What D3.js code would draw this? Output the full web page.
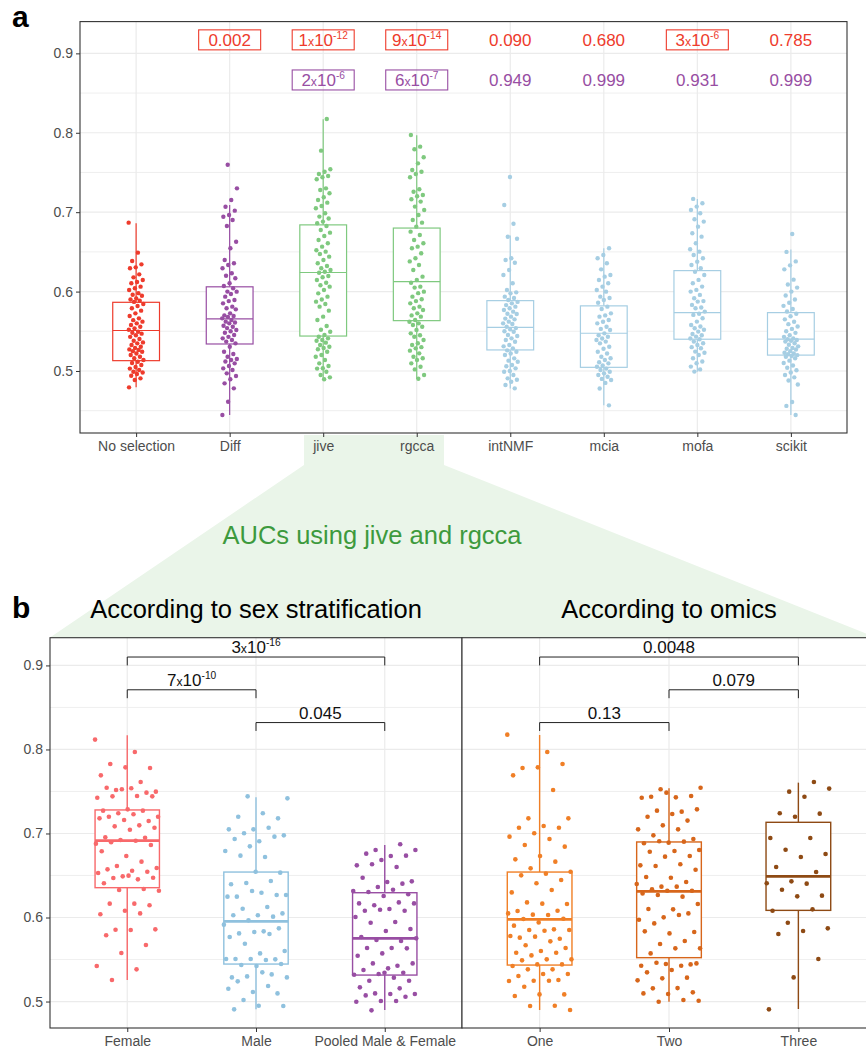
<!DOCTYPE html>
<html>
<head>
<meta charset="utf-8">
<script src="https://cdn.jsdelivr.net/npm/d3@7"></script>
<style>
body { margin: 0; background: #fff; }
text { font-family: "Liberation Sans", Arial, sans-serif; }
</style>
</head>
<body>
<svg id="fig" width="866" height="1050"></svg>
<script>
// ---- panel a data ----
var methods = ["No selection", "Diff", "jive", "rgcca", "intNMF", "mcia", "mofa", "scikit"];

var aucNoSel = [0.6868,0.6490,0.6385,0.6343,0.6305,0.6293,0.6217,0.6179,0.6146,0.6120,0.6104,0.6062,0.6041,0.6020,0.5980,0.5960,0.5948,0.5915,0.5900,0.5885,0.5870,0.5843,0.5818,0.5790,0.5760,0.5726,0.5692,0.5663,0.5640,0.5621,0.5600,0.5580,0.5558,0.5537,0.5520,0.5495,0.5482,0.5470,0.5450,0.5430,0.5403,0.5380,0.5360,0.5348,0.5327,0.5306,0.5290,0.5272,0.5264,0.5250,0.5243,0.5220,0.5201,0.5180,0.5160,0.5138,0.5117,0.5100,0.5075,0.5050,0.5030,0.5012,0.4991,0.4980,0.4962,0.4940,0.4907,0.4886,0.4794];
var aucDiff = [0.7598,0.7300,0.7153,0.7069,0.7019,0.6964,0.6943,0.6901,0.6826,0.6628,0.6545,0.6398,0.6356,0.6335,0.6293,0.6230,0.6200,0.6167,0.6104,0.6070,0.6041,0.6000,0.5999,0.5969,0.5936,0.5894,0.5880,0.5852,0.5810,0.5790,0.5776,0.5726,0.5700,0.5692,0.5680,0.5663,0.5642,0.5621,0.5610,0.5600,0.5570,0.5558,0.5540,0.5516,0.5500,0.5482,0.5453,0.5430,0.5411,0.5390,0.5370,0.5348,0.5306,0.5243,0.5214,0.5180,0.5150,0.5138,0.5120,0.5096,0.5063,0.5033,0.5012,0.4970,0.4937,0.4895,0.4844,0.4781,0.4613,0.4446];
var aucJive = [0.8174,0.7775,0.7540,0.7510,0.7480,0.7456,0.7439,0.7414,0.7300,0.7280,0.7238,0.7187,0.7154,0.7120,0.7078,0.7049,0.6986,0.6944,0.6920,0.6881,0.6860,0.6826,0.6776,0.6742,0.6700,0.6650,0.6608,0.6566,0.6520,0.6503,0.6473,0.6440,0.6398,0.6356,0.6322,0.6293,0.6272,0.6250,0.6238,0.6196,0.6180,0.6146,0.6112,0.6080,0.6062,0.6020,0.5978,0.5936,0.5900,0.5873,0.5844,0.5810,0.5760,0.5684,0.5642,0.5567,0.5520,0.5495,0.5453,0.5432,0.5411,0.5390,0.5380,0.5357,0.5327,0.5306,0.5290,0.5273,0.5243,0.5201,0.5180,0.5138,0.5096,0.5063,0.5034,0.5030,0.4991,0.4950,0.4920,0.4895];
var aucRgcca = [0.7972,0.7825,0.7792,0.7691,0.7615,0.7531,0.7510,0.7480,0.7439,0.7288,0.7258,0.7217,0.7200,0.7162,0.7133,0.7070,0.7028,0.6965,0.6902,0.6868,0.6818,0.6755,0.6713,0.6650,0.6608,0.6566,0.6545,0.6482,0.6419,0.6380,0.6335,0.6272,0.6188,0.6146,0.6112,0.6062,0.6050,0.5999,0.5980,0.5936,0.5903,0.5880,0.5852,0.5810,0.5790,0.5768,0.5726,0.5700,0.5684,0.5642,0.5620,0.5600,0.5580,0.5558,0.5516,0.5474,0.5450,0.5432,0.5390,0.5350,0.5327,0.5300,0.5285,0.5256,0.5222,0.5180,0.5160,0.5138,0.5096,0.5054,0.5020,0.4950,0.4903];
var aucIntNMF = [0.7443,0.7090,0.6855,0.6691,0.6666,0.6419,0.6398,0.6364,0.6272,0.6209,0.6104,0.6020,0.5990,0.5978,0.5936,0.5920,0.5894,0.5870,0.5852,0.5830,0.5810,0.5790,0.5768,0.5747,0.5720,0.5717,0.5684,0.5660,0.5650,0.5621,0.5600,0.5592,0.5558,0.5540,0.5524,0.5500,0.5495,0.5453,0.5440,0.5411,0.5390,0.5369,0.5327,0.5310,0.5285,0.5260,0.5243,0.5220,0.5201,0.5159,0.5130,0.5117,0.5075,0.5060,0.5033,0.5000,0.4991,0.4949,0.4907,0.4890,0.4865,0.4823,0.4781];
var aucMcia = [0.6545,0.6461,0.6419,0.6356,0.6280,0.6209,0.6188,0.6146,0.6104,0.6062,0.6020,0.5999,0.5936,0.5920,0.5894,0.5860,0.5810,0.5780,0.5726,0.5700,0.5684,0.5642,0.5620,0.5600,0.5558,0.5530,0.5516,0.5474,0.5450,0.5432,0.5410,0.5390,0.5370,0.5348,0.5306,0.5280,0.5243,0.5220,0.5180,0.5160,0.5138,0.5110,0.5096,0.5070,0.5054,0.5030,0.5012,0.4990,0.4970,0.4950,0.4928,0.4900,0.4886,0.4850,0.4780,0.4567];
var aucMofa = [0.7167,0.7112,0.7070,0.7028,0.6986,0.6911,0.6881,0.6818,0.6734,0.6692,0.6608,0.6533,0.6503,0.6461,0.6419,0.6377,0.6335,0.6293,0.6250,0.6209,0.6147,0.6105,0.6063,0.6021,0.6000,0.5958,0.5916,0.5880,0.5874,0.5832,0.5800,0.5790,0.5748,0.5720,0.5706,0.5664,0.5622,0.5580,0.5560,0.5538,0.5520,0.5496,0.5466,0.5450,0.5433,0.5410,0.5399,0.5370,0.5350,0.5328,0.5300,0.5286,0.5244,0.5230,0.5202,0.5160,0.5120,0.5097,0.5055,0.5020,0.4992];
var aucScikit = [0.6725,0.6500,0.6380,0.6330,0.6280,0.6150,0.6090,0.6050,0.6000,0.5950,0.5900,0.5860,0.5820,0.5780,0.5750,0.5720,0.5690,0.5650,0.5620,0.5590,0.5560,0.5530,0.5500,0.5480,0.5450,0.5430,0.5410,0.5400,0.5390,0.5380,0.5370,0.5350,0.5330,0.5310,0.5290,0.5280,0.5270,0.5250,0.5230,0.5220,0.5210,0.5200,0.5190,0.5180,0.5160,0.5130,0.5100,0.5070,0.5040,0.5010,0.4980,0.4950,0.4920,0.4880,0.4830,0.4610,0.4560,0.4446];

// box statistics (lower whisker, Q1, median, Q3, upper whisker)
var loA  = [0.4795, 0.4446, 0.4895, 0.4900, 0.4780, 0.4568, 0.4990, 0.4446];
var q1A  = [0.5130, 0.5340, 0.5440, 0.5634, 0.5265, 0.5046, 0.5400, 0.5200];
var medA = [0.5510, 0.5655, 0.6240, 0.6125, 0.5550, 0.5475, 0.5735, 0.5400];
var q3A  = [0.5865, 0.6060, 0.6840, 0.6800, 0.5886, 0.5820, 0.6264, 0.5735];
var hiA  = [0.6860, 0.7090, 0.8170, 0.7970, 0.6705, 0.6545, 0.7166, 0.6530];

// p-values vs No selection (red) and vs Diff (purple); "" = none
var pRed       = ["", "0.002", "1e-12", "9e-14", "0.090", "0.680", "3e-6", "0.785"];
var pRedBoxed  = [false, true, true, true, false, false, true, false];
var pPurple      = ["", "", "2e-6", "6e-7", "0.949", "0.999", "0.931", "0.999"];
var pPurpleBoxed = [false, false, true, true, false, false, false, false];

// ---- panel b data ----
var sexGroups = ["Female", "Male", "Pooled Male & Female"];
var aucFemale = [0.8117,0.7970,0.7827,0.7780,0.7787,0.7692,0.7613,0.7518,0.7498,0.7538,0.7545,0.7486,0.7526,0.7426,0.7446,0.7442,0.7442,0.7287,0.7272,0.7272,0.7240,0.7200,0.7228,0.7200,0.7149,0.7161,0.7180,0.7097,0.7085,0.7069,0.7045,0.6954,0.6950,0.6922,0.6879,0.6914,0.6895,0.6863,0.6732,0.6788,0.6665,0.6613,0.6589,0.6557,0.6573,0.6545,0.6490,0.6530,0.6454,0.6470,0.6474,0.6498,0.6407,0.6339,0.6327,0.6319,0.6165,0.6165,0.6145,0.6081,0.6038,0.6049,0.5855,0.5859,0.5851,0.5788,0.5672,0.5577,0.5422,0.5383,0.5256];
var aucMale = [0.7442,0.7418,0.7240,0.7200,0.7180,0.7049,0.7049,0.7069,0.7002,0.6978,0.6907,0.6934,0.6962,0.6847,0.6791,0.6720,0.6736,0.6534,0.6545,0.6395,0.6434,0.6411,0.6268,0.6295,0.6248,0.6268,0.6315,0.6248,0.6125,0.6105,0.6049,0.6026,0.6026,0.6010,0.5966,0.5915,0.5835,0.5811,0.5871,0.5827,0.5768,0.5803,0.5688,0.5601,0.5573,0.5506,0.5502,0.5506,0.5506,0.5494,0.5434,0.5446,0.5422,0.5287,0.5323,0.5299,0.5287,0.5347,0.5240,0.5097,0.5113,0.5153,0.5184,0.5018,0.4946,0.4950,0.4907];
var aucPooled = [0.6871,0.6803,0.6803,0.6732,0.6760,0.6736,0.6684,0.6621,0.6601,0.6633,0.6430,0.6422,0.6474,0.6403,0.6363,0.6315,0.6331,0.6303,0.6276,0.6256,0.6168,0.6180,0.6145,0.6168,0.6101,0.6081,0.6081,0.6093,0.6006,0.5946,0.5938,0.5863,0.5839,0.5768,0.5720,0.5732,0.5752,0.5637,0.5637,0.5633,0.5573,0.5545,0.5426,0.5454,0.5454,0.5395,0.5375,0.5343,0.5327,0.5319,0.5284,0.5248,0.5248,0.5343,0.5169,0.5157,0.5097,0.5089,0.5089,0.5073,0.5057,0.5006,0.4998,0.5006,0.4895];
var loSex  = [0.5256, 0.4907, 0.4899];
var q1Sex  = [0.6355, 0.5446, 0.5315];
var medSex = [0.6915, 0.5954, 0.5752];
var q3Sex  = [0.7280, 0.6541, 0.6295];
var hiSex  = [0.8170, 0.7430, 0.6863];
var sexTests = [[0, 2, "3e-16"], [0, 1, "7e-10"], [1, 2, "0.045"]];

var omicsGroups = ["One", "Two", "Three"];
var aucOne = [0.8176,0.7970,0.7780,0.7827,0.7787,0.7692,0.7518,0.7180,0.7180,0.7089,0.7069,0.7069,0.7002,0.6962,0.6934,0.6863,0.6843,0.6732,0.6692,0.6665,0.6585,0.6545,0.6522,0.6502,0.6446,0.6407,0.6299,0.6327,0.6180,0.6160,0.6165,0.6077,0.6081,0.6034,0.6049,0.6030,0.5982,0.5986,0.5942,0.5903,0.5859,0.5851,0.5851,0.5843,0.5760,0.5748,0.5772,0.5780,0.5716,0.5669,0.5637,0.5601,0.5581,0.5581,0.5549,0.5502,0.5502,0.5490,0.5442,0.5442,0.5422,0.5383,0.5383,0.5327,0.5327,0.5303,0.5256,0.5248,0.5244,0.5248,0.5176,0.5085,0.5085,0.5065,0.4950,0.4946,0.4899];
var aucTwo = [0.7526,0.7545,0.7430,0.7438,0.7446,0.7486,0.7426,0.7260,0.7272,0.7287,0.7232,0.7200,0.7153,0.7097,0.7049,0.7049,0.6978,0.6934,0.6891,0.6883,0.6903,0.6907,0.6803,0.6791,0.6783,0.6732,0.6724,0.6621,0.6633,0.6613,0.6569,0.6474,0.6482,0.6422,0.6367,0.6399,0.6367,0.6335,0.6319,0.6319,0.6287,0.6248,0.6268,0.6160,0.6097,0.6101,0.6049,0.6002,0.5974,0.6030,0.5930,0.5827,0.5811,0.5835,0.5720,0.5684,0.5633,0.5633,0.5573,0.5442,0.5446,0.5426,0.5426,0.5462,0.5454,0.5375,0.5347,0.5284,0.5276,0.5252,0.5160,0.5157,0.5109,0.5089,0.5097,0.5018,0.4998,0.5010];
var aucThree = [0.7613,0.7498,0.7534,0.7438,0.7240,0.7236,0.7200,0.6946,0.6946,0.6807,0.6756,0.6720,0.6601,0.6541,0.6430,0.6407,0.6403,0.6331,0.6260,0.6252,0.6081,0.6097,0.5938,0.5871,0.5839,0.5803,0.5506,0.5287,0.4907];
var loOm  = [0.4899, 0.4998, 0.4911];
var q1Om  = [0.5434, 0.5522, 0.6085];
var medOm = [0.5978, 0.6311, 0.6490];
var q3Om  = [0.6541, 0.6899, 0.7133];
var hiOm  = [0.8172, 0.7538, 0.7605];
var omicsTests = [[0, 2, "0.0048"], [1, 2, "0.079"], [0, 1, "0.13"]];
var bracketLevels = [0.910, 0.871, 0.832];

// ---- colours ----
var colA = ["#ee3b2c", "#984ea3", "#7fc97f", "#7fc97f", "#a6cee3", "#a6cee3", "#a6cee3", "#a6cee3"];
var colSex = ["#f8696b", "#8fc1de", "#984ea3"];
var colOm = ["#f07f26", "#d7661b", "#8e4a14"];
var redTxt = "#ee3b2c", purpleTxt = "#984ea3";
var gridCol = "#ebebeb", borderCol = "#333333", tickTxt = "#4d4d4d";

var svg = d3.select("#fig");

// shaded "zoom" shape linking jive/rgcca to panel b
svg.append("path")
    .attr("d", "M304,435 L444,435 L444,465 L876,637.5 L50,637.5 L304,465 Z")
    .attr("fill", "#eaf5e9");

// put a label with optional "m x 10^e" formatting
function pLabel(g, x, y, label, color, size) {
    var t = g.append("text")
        .attr("x", x).attr("y", y)
        .attr("text-anchor", "middle")
        .attr("fill", color)
        .style("font-size", size + "px");
    if (label.indexOf("e-") > 0) {
        var parts = label.split("e");
        t.append("tspan").text(parts[0]);
        t.append("tspan").style("font-size", (size * 0.72) + "px").text("x");
        t.append("tspan").text("10");
        t.append("tspan").attr("dy", -size * 0.4).style("font-size", (size * 0.6) + "px").text(parts[1]);
    } else {
        t.text(label);
    }
    return t;
}

// one boxplot + jitter panel
function drawPanel(cfg) {
    var g = svg.append("g");
    var x = cfg.x, y = cfg.y;
    var x0 = x.range()[0], x1 = x.range()[1];
    var y0 = y.range()[0], y1 = y.range()[1];
    var step = x.step();

    g.append("rect").attr("x", x0).attr("y", y1).attr("width", x1 - x0).attr("height", y0 - y1)
        .attr("fill", "#fff");

    // grid
    g.selectAll(".minor").data(cfg.minor).enter().append("line")
        .attr("x1", x0).attr("x2", x1)
        .attr("y1", function(d) { return y(d); }).attr("y2", function(d) { return y(d); })
        .attr("stroke", gridCol).attr("stroke-width", 0.8);
    g.selectAll(".major").data(cfg.major).enter().append("line")
        .attr("x1", x0).attr("x2", x1)
        .attr("y1", function(d) { return y(d); }).attr("y2", function(d) { return y(d); })
        .attr("stroke", gridCol).attr("stroke-width", 1.2);
    g.selectAll(".vgrid").data(cfg.groups).enter().append("line")
        .attr("x1", function(d) { return x(d); }).attr("x2", function(d) { return x(d); })
        .attr("y1", y0).attr("y2", y1)
        .attr("stroke", gridCol).attr("stroke-width", 1.2);

    var bw = step * 0.5;
    cfg.groups.forEach(function(grp, i) {
        var cx = x(grp), c = cfg.colors[i];
        // whiskers
        g.append("line").attr("x1", cx).attr("x2", cx)
            .attr("y1", y(cfg.q3[i])).attr("y2", y(cfg.hi[i]))
            .attr("stroke", c).attr("stroke-width", cfg.lw);
        g.append("line").attr("x1", cx).attr("x2", cx)
            .attr("y1", y(cfg.q1[i])).attr("y2", y(cfg.lo[i]))
            .attr("stroke", c).attr("stroke-width", cfg.lw);
        // box
        g.append("rect")
            .attr("x", cx - bw / 2).attr("y", y(cfg.q3[i]))
            .attr("width", bw).attr("height", y(cfg.q1[i]) - y(cfg.q3[i]))
            .attr("fill", "#fff").attr("stroke", c).attr("stroke-width", cfg.lw);
        g.append("line")
            .attr("x1", cx - bw / 2).attr("x2", cx + bw / 2)
            .attr("y1", y(cfg.med[i])).attr("y2", y(cfg.med[i]))
            .attr("stroke", c).attr("stroke-width", cfg.medW);
    });

    // jittered points (deterministic spread)
    cfg.groups.forEach(function(grp, i) {
        var cx = x(grp);
        g.selectAll(null).data(cfg.values[i]).enter().append("circle")
            .attr("cx", function(d, k) {
                var f = ((k * 0.6180339887 + i * 0.37) % 1) - 0.5;
                return cx + f * 2 * cfg.jitter * step;
            })
            .attr("cy", function(d) { return y(d); })
            .attr("r", cfg.r)
            .attr("fill", cfg.colors[i]);
    });

    // border
    g.append("rect").attr("x", x0).attr("y", y1).attr("width", x1 - x0).attr("height", y0 - y1)
        .attr("fill", "none").attr("stroke", borderCol).attr("stroke-width", 1.1);

    // axes
    var xa = g.append("g").attr("transform", "translate(0," + y0 + ")")
        .call(d3.axisBottom(x).tickSize(4).tickPadding(4));
    xa.select(".domain").remove();
    xa.selectAll("line").attr("stroke", borderCol);
    xa.selectAll("text").attr("fill", tickTxt).style("font-size", "14px")
        .style("font-family", "'Liberation Sans', Arial, sans-serif");

    if (cfg.yAxis) {
        var ya = g.append("g").attr("transform", "translate(" + x0 + ",0)")
            .call(d3.axisLeft(y).tickValues(cfg.major).tickFormat(d3.format(".1f")).tickSize(4).tickPadding(3));
        ya.select(".domain").remove();
        ya.selectAll("line").attr("stroke", borderCol);
        ya.selectAll("text").attr("fill", tickTxt).style("font-size", "14px")
            .style("font-family", "'Liberation Sans', Arial, sans-serif");
    }
    return g;
}

// ---- panel a ----
var xA = d3.scalePoint().domain(methods).range([80, 847]).padding(0.6);
var yA = d3.scaleLinear().domain([0.4219, 0.940]).range([433, 21.6]);
var gA = drawPanel({
    x: xA, y: yA, groups: methods,
    values: [aucNoSel, aucDiff, aucJive, aucRgcca, aucIntNMF, aucMcia, aucMofa, aucScikit],
    lo: loA, q1: q1A, med: medA, q3: q3A, hi: hiA,
    colors: colA, major: [0.5, 0.6, 0.7, 0.8, 0.9], minor: [0.45, 0.55, 0.65, 0.75, 0.85],
    jitter: 0.08, r: 2.2, lw: 1.2, medW: 1.2, yAxis: true
});

var redLevel = 0.917, purpleLevel = 0.8665;
methods.forEach(function(m, i) {
    var cx = xA(m);
    if (pRed[i] !== "") {
        pLabel(gA, cx, yA(redLevel) + 6, pRed[i], redTxt, 17);
        if (pRedBoxed[i]) {
            gA.append("rect").attr("x", cx - 31).attr("y", yA(redLevel) - 10)
                .attr("width", 62).attr("height", 20)
                .attr("fill", "none").attr("stroke", redTxt).attr("stroke-width", 1.1);
        }
    }
    if (pPurple[i] !== "") {
        pLabel(gA, cx, yA(purpleLevel) + 6, pPurple[i], purpleTxt, 17);
        if (pPurpleBoxed[i]) {
            gA.append("rect").attr("x", cx - 31).attr("y", yA(purpleLevel) - 10)
                .attr("width", 62).attr("height", 20)
                .attr("fill", "none").attr("stroke", purpleTxt).attr("stroke-width", 1.1);
        }
    }
});

// ---- panel b ----
var yB = d3.scaleLinear().domain([0.4685, 0.933]).range([1028, 637.7]);
var xSex = d3.scalePoint().domain(sexGroups).range([50, 462]).padding(0.6);
var xOm = d3.scalePoint().domain(omicsGroups).range([462, 876]).padding(0.6);

var gSex = drawPanel({
    x: xSex, y: yB, groups: sexGroups, values: [aucFemale, aucMale, aucPooled],
    lo: loSex, q1: q1Sex, med: medSex, q3: q3Sex, hi: hiSex,
    colors: colSex, major: [0.5, 0.6, 0.7, 0.8, 0.9], minor: [0.55, 0.65, 0.75, 0.85],
    jitter: 0.25, r: 2.3, lw: 1.4, medW: 2.6, yAxis: true
});
var gOm = drawPanel({
    x: xOm, y: yB, groups: omicsGroups, values: [aucOne, aucTwo, aucThree],
    lo: loOm, q1: q1Om, med: medOm, q3: q3Om, hi: hiOm,
    colors: colOm, major: [0.5, 0.6, 0.7, 0.8, 0.9], minor: [0.55, 0.65, 0.75, 0.85],
    jitter: 0.25, r: 2.3, lw: 1.4, medW: 2.6, yAxis: false
});

function brackets(g, x, groups, tests) {
    tests.forEach(function(t, i) {
        var xa = x(groups[t[0]]), xb = x(groups[t[1]]);
        var yl = yB(bracketLevels[i]), yt = yB(bracketLevels[i] - 0.01);
        g.append("path")
            .attr("d", "M" + xa + "," + yt + "V" + yl + "H" + xb + "V" + yt)
            .attr("fill", "none").attr("stroke", "#222").attr("stroke-width", 1);
        pLabel(g, (xa + xb) / 2, yl - 4, t[2], "#111", 17);
    });
}
brackets(gSex, xSex, sexGroups, sexTests);
brackets(gOm, xOm, omicsGroups, omicsTests);

// ---- titles and panel letters ----
svg.append("text").attr("x", 12).attr("y", 27).text("a")
    .style("font-size", "30px").style("font-weight", "bold").attr("fill", "#000");
svg.append("text").attr("x", 12).attr("y", 618).text("b")
    .style("font-size", "30px").style("font-weight", "bold").attr("fill", "#000");
svg.append("text").attr("x", 372).attr("y", 544).attr("text-anchor", "middle")
    .text("AUCs using jive and rgcca").style("font-size", "25.5px").attr("fill", "#3d9a3d");
svg.append("text").attr("x", (50 + 462) / 2).attr("y", 618).attr("text-anchor", "middle")
    .text("According to sex stratification").style("font-size", "25.5px").attr("fill", "#000");
svg.append("text").attr("x", (462 + 876) / 2).attr("y", 618).attr("text-anchor", "middle")
    .text("According to omics").style("font-size", "25.5px").attr("fill", "#000");
</script>
</body>
</html>
